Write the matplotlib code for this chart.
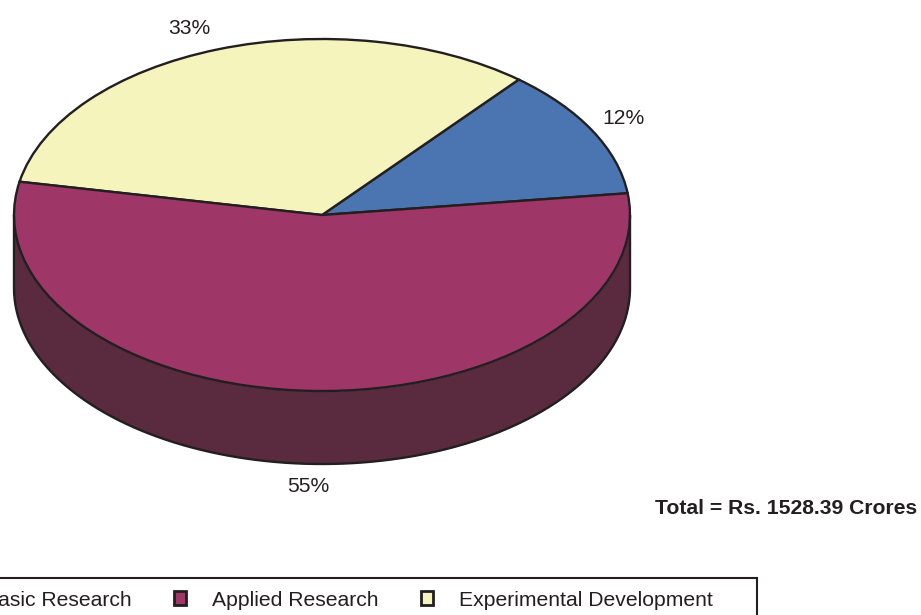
import matplotlib
matplotlib.use("Agg")
import matplotlib.pyplot as plt
from matplotlib.patches import Patch, Rectangle
import numpy as np

plt.rcParams['font.family'] = ['Liberation Sans', 'DejaVu Sans']

categories = ["Basic Research", "Applied Research", "Experimental Development"]
pie_order = ["Basic Research", "Experimental Development", "Applied Research"]
shares = [12, 33, 55]
share_labels = ["12%", "33%", "55%"]
total_text = "Total = Rs. 1528.39 Crores"

colors = {"Basic Research": "#4b75b0", "Applied Research": "#9e3768", "Experimental Development": "#f5f4bd"}
side_color = "#5a2a3e"
edge = "#231f20"

W, H = 921, 615
cx, cy, rx, ry, depth = 322, 215, 308, 176, 73
fs = 15.2

fig = plt.figure(figsize=(W / 100, H / 100), dpi=100)
ax = fig.add_axes([0, 0, 1, 1])

# side wall first, top of the pie goes over it
t = np.linspace(np.pi, 2 * np.pi, 200)
xs = np.cos(t)
ys = np.sin(t)
d = depth / ry
ax.fill_between(xs, ys, ys - d, color=side_color, lw=0)
ax.plot(xs, ys - d, color=edge, lw=1.7, solid_capstyle='butt')
ax.plot([-1, -1], [0, -d], color=edge, lw=1.7, solid_capstyle='butt')
ax.plot([1, 1], [0, -d], color=edge, lw=1.7, solid_capstyle='butt')

ax.pie(shares, colors=[colors[c] for c in pie_order], startangle=7.1, counterclock=True,
       wedgeprops={"edgecolor": edge, "linewidth": 1.7})

# squash to ellipse, axes span whole figure in pixel terms
ax.set_aspect('auto')
ax.set_xlim((0 - cx) / rx, (W - cx) / rx)
ax.set_ylim((cy - H) / ry, cy / ry)
ax.axis('off')


def px_text(x, y, s, **kw):
    fig.text(x / W, 1 - y / H, s, va='center', **kw)


px_text(623, 118, share_labels[0], ha='center', fontsize=fs, color=edge)
px_text(189, 28, share_labels[1], ha='center', fontsize=fs, color=edge)
px_text(308, 487, share_labels[2], ha='center', fontsize=fs, color=edge)
px_text(655, 509, total_text, ha='left', fontsize=fs, fontweight='bold', color=edge)

# legend box runs off the left and bottom of the page
fig.add_artist(Rectangle((-10 / W, -20 / H), 767 / W, (H - 578 + 20) / H, transform=fig.transFigure,
                         facecolor='none', edgecolor=edge, lw=1.5))
handles = [Patch(facecolor=colors[c], edgecolor=edge, lw=2, label=c) for c in categories]
leg = fig.legend(handles=handles, ncol=3, loc='center right', bbox_to_anchor=(713 / W, 1 - 600 / H),
                 frameon=False, fontsize=fs, borderpad=0, borderaxespad=0, handlelength=0.6,
                 handleheight=0.6, handletextpad=1.22, columnspacing=2.0, labelcolor=edge)

fig.savefig("out.png", dpi=100)
